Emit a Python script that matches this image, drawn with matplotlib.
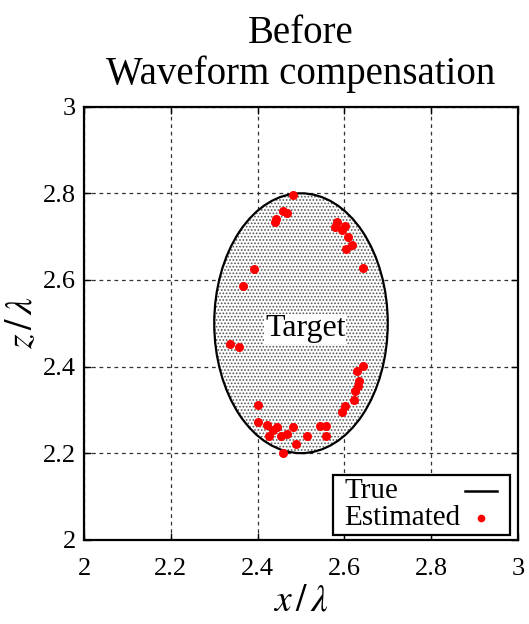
#!/usr/bin python3

# import required libraries
import numpy as np
import matplotlib
matplotlib.use("Agg")
import matplotlib.pyplot as plt
from matplotlib.patches import Ellipse, Rectangle

# target ellipse (centre, full width / height in units of wavelength)
target_center = (2.5, 2.5)
target_width = 0.4
target_height = 0.6

# estimated scatter positions
est_x = [2.482, 2.459, 2.468, 2.442, 2.439, 2.582, 2.578, 2.601, 2.594, 2.608,
         2.617, 2.604, 2.642, 2.392, 2.366, 2.336, 2.358, 2.642, 2.630, 2.634,
         2.632, 2.624, 2.623, 2.602, 2.594, 2.402, 2.402, 2.421, 2.444, 2.435,
         2.426, 2.482, 2.467, 2.455, 2.513, 2.488, 2.458, 2.544, 2.558, 2.558]
est_z = [2.797, 2.760, 2.754, 2.741, 2.734, 2.733, 2.722, 2.725, 2.716, 2.700,
         2.681, 2.672, 2.627, 2.625, 2.585, 2.452, 2.446, 2.402, 2.390, 2.366,
         2.356, 2.343, 2.323, 2.309, 2.295, 2.312, 2.273, 2.266, 2.260, 2.254,
         2.239, 2.260, 2.245, 2.239, 2.240, 2.220, 2.200, 2.262, 2.262, 2.240]

ticks = [2, 2.2, 2.4, 2.6, 2.8, 3]
tick_labels = ["2", "2.2", "2.4", "2.6", "2.8", "3"]
legend_labels = ["True", "Estimated"]


def main():
    plt.rcParams["font.family"] = ["Liberation Serif", "DejaVu Serif"]
    plt.rcParams["mathtext.fontset"] = "stix"
    plt.rcParams["hatch.linewidth"] = 0.8

    fig = plt.figure(figsize=(5.29, 6.24), dpi=100)
    ax = fig.add_axes([0.159, 0.135, 0.820, 0.694])

    # dotted target region
    ell = Ellipse(target_center, target_width, target_height, facecolor="white",
                  edgecolor="#555555", linewidth=0, hatch=".....", zorder=1)
    ax.add_patch(ell)
    outline = Ellipse(target_center, target_width, target_height, facecolor="none",
                      edgecolor="black", linewidth=1.6, zorder=3)
    ax.add_patch(outline)

    ax.text(2.51, 2.487, "Target", fontsize=23, ha="center", va="center", zorder=4,
            bbox=dict(facecolor="white", edgecolor="none", pad=0.5))

    ax.plot(est_x, est_z, "o", color="red", markersize=6.5, markeredgewidth=0, zorder=5)

    ax.set_xlim(2, 3)
    ax.set_ylim(2, 3)
    ax.set_xticks(ticks)
    ax.set_xticklabels(tick_labels)
    ax.set_yticks(ticks)
    ax.set_yticklabels(tick_labels)
    ax.tick_params(direction="in", top=True, right=True, labelsize=19, length=5,
                   width=1)
    ax.tick_params(axis="x", pad=13)
    ax.tick_params(axis="y", pad=6)
    ax.grid(True, color="#333333", linestyle=(0, (3, 3)), linewidth=0.9)
    ax.set_axisbelow(True)
    for s in ax.spines.values():
        s.set_linewidth(1.6)

    ax.set_xlabel(r"$x\,/\,\lambda$", fontsize=27, labelpad=3)
    ax.set_ylabel(r"$z\,/\,\lambda$", fontsize=27, labelpad=2)
    ax.set_title("Before\nWaveform compensation", fontsize=28, linespacing=1.15, pad=16)

    # legend box drawn by hand so labels sit left and symbols right
    tr = ax.transAxes
    ax.add_patch(Rectangle((0.574, 0.0115), 0.408, 0.139, transform=tr,
                           facecolor="white", edgecolor="black", linewidth=1.6,
                           zorder=6))
    ax.text(0.600, 0.112, legend_labels[0], transform=tr, fontsize=21,
            ha="left", va="center", zorder=7)
    ax.text(0.600, 0.050, legend_labels[1], transform=tr, fontsize=21,
            ha="left", va="center", zorder=7)
    ax.plot([0.878, 0.952], [0.112, 0.112], transform=tr, color="black",
            linewidth=1.8, zorder=7, clip_on=False)
    ax.plot([0.915], [0.050], "o", transform=tr, color="red", markersize=5.5,
            markeredgewidth=0, zorder=7, clip_on=False)

    plt.savefig("out.png", dpi=100)


if __name__ == '__main__':
    main()
